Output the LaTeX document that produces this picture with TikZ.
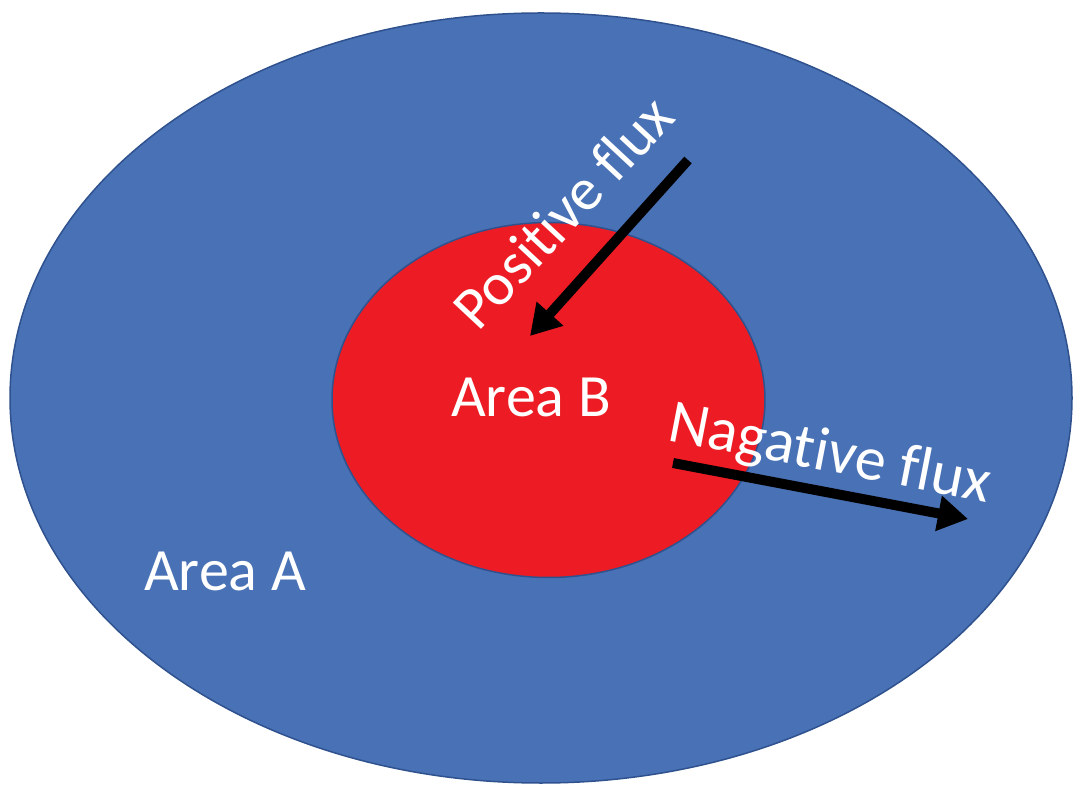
\documentclass[tikz,border=0pt]{standalone}
\usepackage{fontspec}
\setmainfont{Carlito}[Ligatures=NoCommon]
\usepackage{tikz}
\usetikzlibrary{positioning}
\usetikzlibrary{shapes.geometric}
\usetikzlibrary{arrows.meta}
\definecolor{areablue}{HTML}{4971B5}
\definecolor{edgeblue}{HTML}{2F528F}
\definecolor{areared}{HTML}{ED1C24}

\begin{document}
\begin{tikzpicture}[
        x=1pt, y=1pt,
        area/.style={ellipse, draw=edgeblue, line width=1.5pt, inner sep=0pt},
        label/.style={text=white, inner sep=0pt, font=\fontsize{60}{72}\selectfont},
        flux/.style={line width=10pt, -{Triangle[length=30pt,width=34pt]}}
    ]
    \useasboundingbox (0,0) rectangle (1073,785);

    % Outer area
    \node[area, fill=areablue, minimum width=1062pt, minimum height=770pt] at (541,387) (areaA) {};

    % Inner area
    \node[area, fill=areared, minimum width=433pt, minimum height=355pt] at (548.5,385) (areaB) {};

    % Labels
    \node[label, anchor=base west] at (144,195) (labA) {Area A};
    \node[label, anchor=base west] at (451,368) (labB) {Area B};
    \node[label, anchor=base west, rotate=47] at (478,452) (pos) {Positive flux};
    \node[label, anchor=base west, rotate=-11, font=\fontsize{62}{74}\selectfont] at (666,345) (neg) {Nagative flux};

    % Arrow ends
    \coordinate (posstart) at (688,625);
    \coordinate (posend) at (530,449);
    \coordinate (negstart) at (673,322);
    \coordinate (negend) at (968,266);

    % Arrows
    \draw[flux] (posstart) -- (posend);
    \draw[flux] (negstart) -- (negend);

\end{tikzpicture}
\end{document}
